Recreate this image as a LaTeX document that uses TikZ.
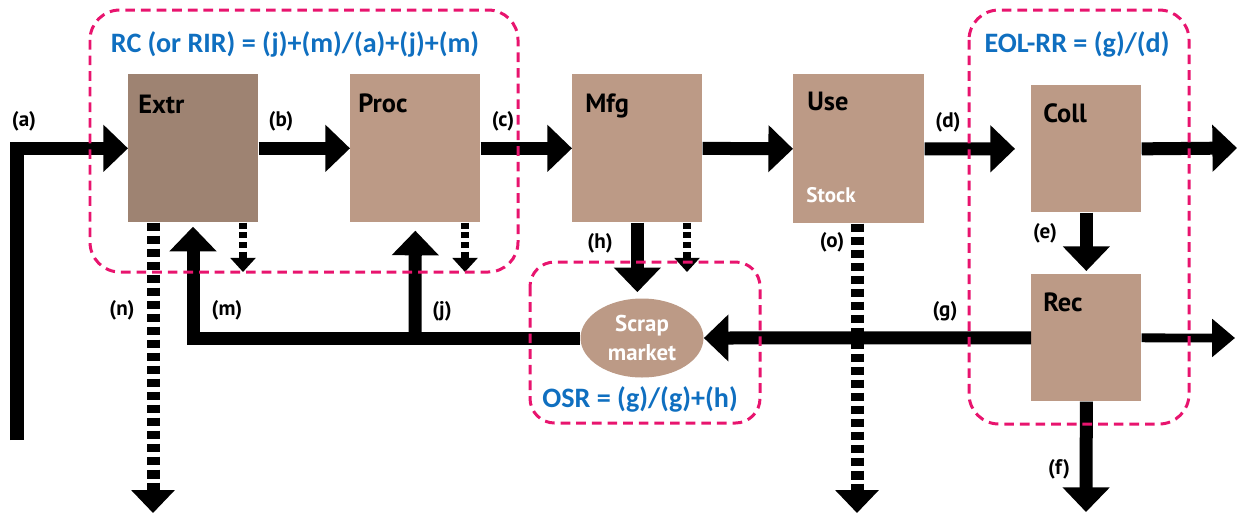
\documentclass[tikz,border=0pt]{standalone}
\usepackage{fontspec}
\setmainfont{PT Sans}
\newfontfamily\ratiofont{Carlito}
\usetikzlibrary{arrows.meta,positioning,shapes.geometric}
\definecolor{stagebrown}{HTML}{BC9A86}
\definecolor{extrbrown}{HTML}{9E8372}
\definecolor{framepink}{HTML}{E8146E}
\definecolor{ratioblue}{HTML}{0F6FC0}

\begin{document}
\begin{tikzpicture}[x=0.02cm, y=-0.02cm,
                    stage/.style = {fill=stagebrown, anchor=north west, inner sep=0pt},
                    stagename/.style = {anchor=north west, inner sep=0pt, font=\bfseries\fontsize{15}{16}\selectfont},
                    tag/.style = {inner sep=0pt, font=\bfseries\fontsize{12}{13}\selectfont},
                    ratio/.style = {text=ratioblue, inner sep=0pt, font=\ratiofont\bfseries\fontsize{16}{18}\selectfont},
                    flow/.style = {line width=7.4pt, -{Triangle[width=26pt,length=14pt]}},
                    thinflow/.style = {line width=5pt, -{Triangle[width=21pt,length=13pt]}},
                    loss/.style = {line width=7.4pt, dash pattern=on 5pt off 2.4pt, -{Triangle[width=24pt,length=13pt]}},
                    spill/.style = {line width=5pt, dash pattern=on 3.5pt off 2pt, -{Triangle[width=14pt,length=8pt]}},
                    frame/.style = {draw=framepink, line width=1.7pt, dash pattern=on 5.5pt off 3.4pt}]
    \useasboundingbox (0,0) rectangle (1239,515);

    \node[stage, fill=extrbrown, minimum width=2.6cm, minimum height=2.96cm] (extr) at (128,74) {};
    \node[stage, minimum width=2.6cm,  minimum height=2.96cm] (proc) at (350,74)  {};
    \node[stage, minimum width=2.6cm,  minimum height=2.96cm] (mfg)  at (572,74)  {};
    \node[stage, minimum width=2.62cm, minimum height=2.98cm] (use)  at (793,74)  {};
    \node[stage, minimum width=2.2cm,  minimum height=2.54cm] (coll) at (1031,85)  {};
    \node[stage, minimum width=2.2cm,  minimum height=2.54cm] (rec)  at (1031,274) {};
    \node[ellipse, fill=stagebrown, minimum width=2.46cm, minimum height=1.58cm, inner sep=0pt,
          text=white, align=center, font=\bfseries\fontsize{13}{16}\selectfont] (scrap) at (642,338) {Scrap\\market};

    \node[stagename] (extrname) at ([shift={(10,21)}]extr.north west) {Extr};
    \node[stagename] (procname) at ([shift={(8,19)}]proc.north west)  {Proc};
    \node[stagename] (mfgname)  at ([shift={(13,19)}]mfg.north west)  {Mfg};
    \node[stagename] (usename)  at ([shift={(14,18)}]use.north west)  {Use};
    \node[stagename] (collname) at ([shift={(12,18)}]coll.north west) {Coll};
    \node[stagename] (recname)  at ([shift={(12,18)}]rec.north west)  {Rec};
    \node[stagename, text=white, font=\bfseries\fontsize{12}{13}\selectfont] (stock) at (806,187) {Stock};

    \coordinate (astart)  at (17,440);
    \coordinate (collout) at (1237,148);
    \coordinate (recout)  at (1235,338);
    \coordinate (fend)    at (1086,512);
    \coordinate (mcorner) at (193,338);
    \coordinate (jfoot)   at (415,338);
    \coordinate (nend)    at (153,513);
    \coordinate (oend)    at (857,513);
    \coordinate (xspill)  at (243,272);
    \coordinate (pspill)  at (465,272);
    \coordinate (mspill)  at (687,272);

    \draw[flow] (astart) |- (extr.west);
    \draw[flow] (extr.east) -- (proc.west);
    \draw[flow] (proc.east) -- (mfg.west);
    \draw[flow] (mfg.east) -- (use.west);
    \draw[flow, shorten >=0.32cm] (use.east) -- (coll.west);
    \draw[flow] (coll.east) -- (collout);
    \draw[flow, shorten >=0.06cm] (coll.south) -- (rec.north);
    \draw[thinflow] (rec.east) -- (recout);
    \draw[flow] (rec.south) -- (fend);
    \draw[flow] (rec.west) -- (scrap.east);
    \draw[flow, shorten >=0.12cm] (mfg.south) -- (mfg.south |- scrap.north);
    \draw[flow, shorten >=0.08cm] (scrap.west) -- (mcorner) -- (mcorner |- extr.south);
    \draw[flow, shorten >=0.16cm] (jfoot) -- (proc.south);

    \draw[loss] (nend |- extr.south) -- (nend);
    \draw[loss] (oend |- use.south) -- (oend);
    \draw[spill] (xspill |- extr.south) -- (xspill);
    \draw[spill] (pspill |- proc.south) -- (pspill);
    \draw[spill] (mspill |- mfg.south) -- (mspill);

    \node[tag] (ta) at (24,121)   {(a)};
    \node[tag] (tb) at (281,121)  {(b)};
    \node[tag] (tc) at (503,121)  {(c)};
    \node[tag] (td) at (948,122)  {(d)};
    \node[tag] (te) at (1045,233) {(e)};
    \node[tag] (tf) at (1059,469) {(f)};
    \node[tag] (tg) at (945,311)  {(g)};
    \node[tag] (th) at (600,243)  {(h)};
    \node[tag] (tj) at (442,311)  {(j)};
    \node[tag] (tm) at (227,310)  {(m)};
    \node[tag] (tn) at (122,310)  {(n)};
    \node[tag] (to) at (832,242)  {(o)};

    \draw[frame, rounded corners=17pt] (90,10)  rectangle (518,272);
    \draw[frame, rounded corners=14pt] (530,262) rectangle (760,423);
    \draw[frame, rounded corners=17pt] (969,10)  rectangle (1189,424);

    \node[ratio] (rcratio)  at (295,44)  {RC (or RIR) = (j)+(m)/(a)+(j)+(m)};
    \node[ratio] (osrratio) at (640,399) {OSR = (g)/(g)+(h)};
    \node[ratio] (eolratio) at (1077,44) {EOL-RR = (g)/(d)};
\end{tikzpicture}
\end{document}
